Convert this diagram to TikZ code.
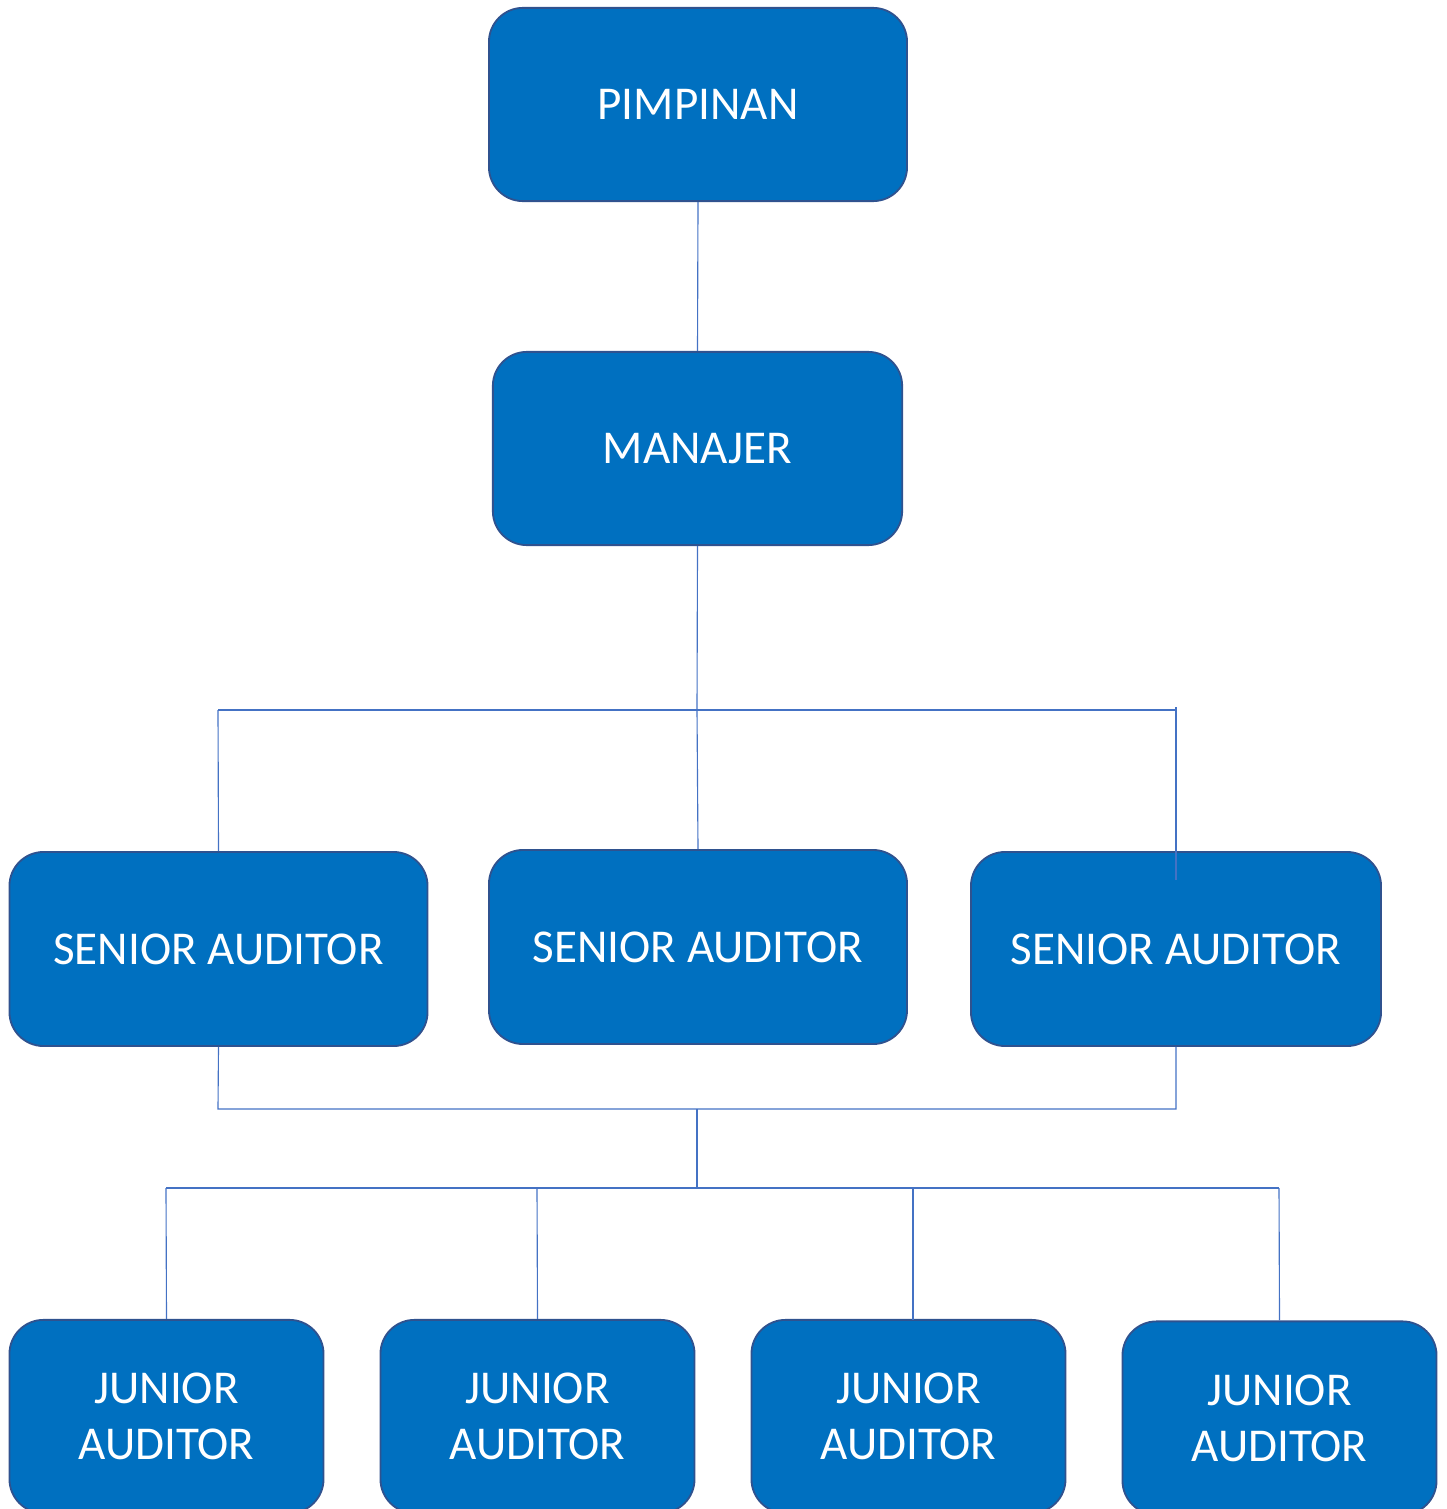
\documentclass[tikz,border=0pt]{standalone}
\usepackage{fontspec}
\setmainfont{Carlito}
\definecolor{boxblue}{HTML}{0070C0}
\definecolor{boxedge}{HTML}{2F528F}
\definecolor{linkblue}{HTML}{4472C4}
\tikzset{
  unit/.style={draw=boxedge, line width=1.3pt, fill=boxblue, text=white,
    rounded corners=0.85cm, align=center, inner sep=0pt,
    font=\fontsize{33.5}{40}\selectfont},
  top/.style={unit, minimum width=10.45cm, minimum height=4.83cm},
  senior/.style={unit, minimum width=10.45cm, minimum height=4.85cm},
  junior/.style={unit, minimum width=7.85cm, minimum height=4.83cm},
  link/.style={draw=linkblue, line width=0.8pt}
}
\begin{document}
\begin{tikzpicture}[x=0.025cm,y=-0.025cm]
  \useasboundingbox (0,0) rectangle (1446,1509);
  \clip (0,0) rectangle (1446,1509);
  % Boxes
  \node[top] (p) at (698,104.5) {PIMPINAN};
  \node[top, minimum width=10.23cm] (m) at (697.5,448.5) {MANAJER};
  \node[senior] (s1) at (218.5,949) {SENIOR AUDITOR};
  \node[senior] (s2) at (698,947) {SENIOR AUDITOR};
  \node[senior, minimum width=10.25cm] (s3) at (1176,949) {SENIOR AUDITOR};
  \node[junior] (j1) at (166.5,1416.5) {JUNIOR\\AUDITOR};
  \node[junior] (j2) at (537.5,1416.5) {JUNIOR\\AUDITOR};
  \node[junior] (j3) at (908.5,1416.5) {JUNIOR\\AUDITOR};
  \node[junior] (j4) at (1279.5,1418) {JUNIOR\\AUDITOR};

  % Branch points
  \coordinate (c1) at (697,710);
  \coordinate (l1) at (218,710);
  \coordinate (r1) at (1176,710);
  \coordinate (r0) at (1176,707);
  \coordinate (r3) at (1176,880);
  \coordinate (l2) at (218,1109);
  \coordinate (r2) at (1176,1109);
  \coordinate (c2) at (697,1109);
  \coordinate (c3) at (697,1188);
  \coordinate (a1) at (166,1188);
  \coordinate (a2) at (537,1188);
  \coordinate (a3) at (913,1188);
  \coordinate (a4) at (1279,1188);
  \coordinate (t3) at (913,1320);

  \draw[link] (p.south) -- (m.north);
  \draw[link] (m.south) -- (c1);
  \draw[link] (l1) -- (r1);
  \draw[link] (l1) -- (s1.north);
  \draw[link] (c1) -- (s2.north);
  \draw[link] (r0) -- (r3);
  \draw[link] (s1.south) -- (l2) -- (r2) -- (s3.south);
  \draw[link] (c2) -- (c3);
  \draw[link] (a1) -- (a4);
  \draw[link] (a1) -- (j1.north);
  \draw[link] (a2) -- (j2.north);
  \draw[link] (a3) -- (t3);
  \draw[link] (a4) -- (j4.north);
\end{tikzpicture}
\end{document}
